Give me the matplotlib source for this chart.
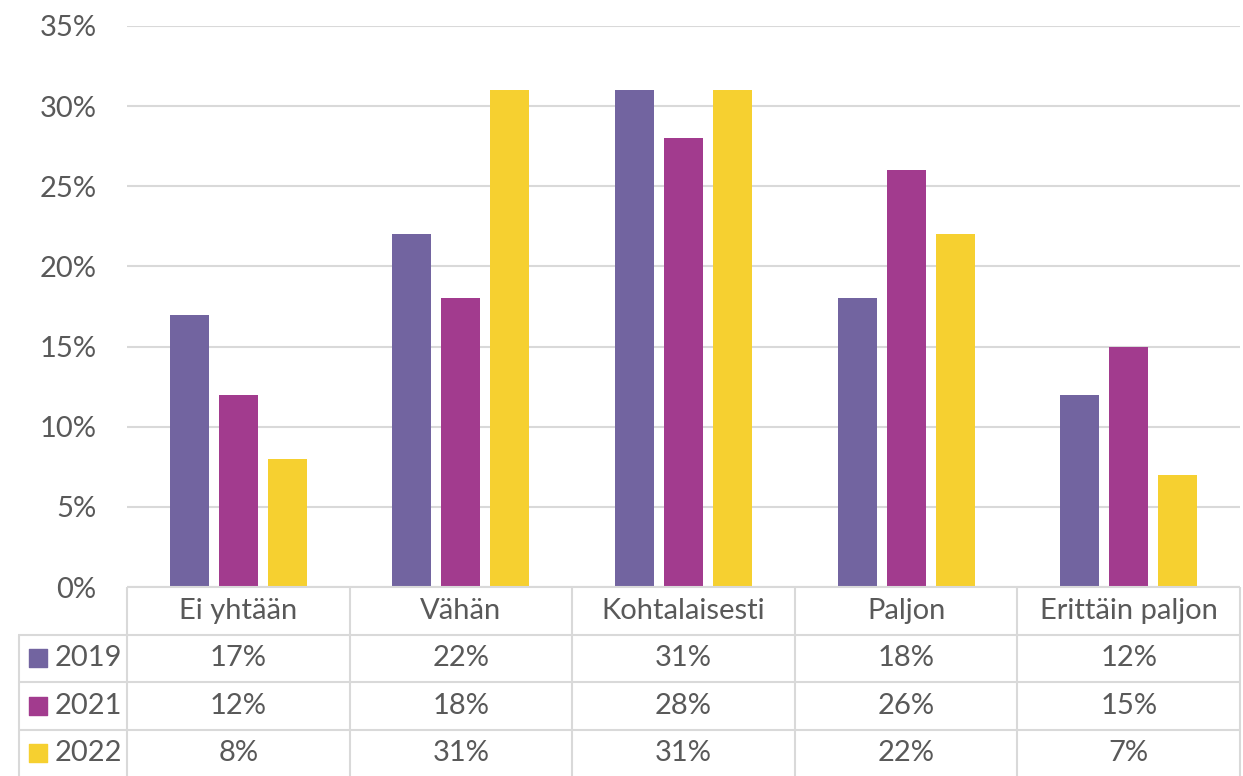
import matplotlib.pyplot as plt
import numpy as np

# data
categories = ["Ei yhtään", "Vähän", "Kohtalaisesti", "Paljon", "Erittäin paljon"]
years = ["2019", "2021", "2022"]
v2019 = [17, 22, 31, 18, 12]
v2021 = [12, 18, 28, 26, 15]
v2022 = [8, 31, 31, 22, 7]
series = [v2019, v2021, v2022]
colors = ["#7264A0", "#A23B8E", "#F6D030"]

plt.rcParams['font.family'] = ['Lato', 'DejaVu Sans']
txt = "#595959"
grid = "#D9D9D9"
fs = 21

W, H = 1243, 776
fig = plt.figure(figsize=(W / 100, H / 100), dpi=100)

left, right, bottom, top = 127, 1240, 587, 26
ax = fig.add_axes([left / W, 1 - bottom / H, (right - left) / W, (bottom - top) / H])

x = np.arange(len(categories))
width = 0.175
step = 0.22
for i, vals in enumerate(series):
    ax.bar(x + (i - 1) * step, np.array(vals) / 100, width, color=colors[i], zorder=3)

ax.set_xlim(-0.5, len(categories) - 0.5)
ax.set_ylim(0, 0.35)
ax.set_yticks(np.arange(0, 0.351, 0.05))
ax.set_yticklabels(["{:.0f}%".format(t * 100) for t in np.arange(0, 0.351, 0.05)])
ax.tick_params(axis='y', length=0, pad=22, labelsize=fs, labelcolor=txt)
ax.set_xticks([])
ax.grid(axis='y', color=grid, linewidth=1.5, zorder=0)
for s in ax.spines.values():
    s.set_visible(False)

# data table below
cat_px = (right - left) / len(categories)
xmin = -0.5 - (left - 18) / cat_px
row_px = 47.5
nrows = (H - bottom) / row_px
tax = fig.add_axes([18 / W, 0, (right - 18) / W, (H - bottom) / H])
tax.set_xlim(xmin, len(categories) - 0.5)
tax.set_ylim(nrows, 0)
tax.axis('off')

lw = 1.5
tax.hlines(0, -0.5, len(categories) - 0.5, color=grid, lw=lw, clip_on=False)
for r in range(1, 4):
    tax.hlines(r, xmin, len(categories) - 0.5, color=grid, lw=lw, clip_on=False)
for c in range(len(categories) + 1):
    tax.vlines(c - 0.5, 0, nrows, color=grid, lw=lw, clip_on=False)
tax.vlines(xmin + 0.005, 1, nrows, color=grid, lw=lw, clip_on=False)

for j, cat in enumerate(categories):
    tax.text(j, 0.5, cat, ha='center', va='center', fontsize=fs, color=txt)
for i, (yr, vals) in enumerate(zip(years, series)):
    yc = i + 1.5
    tax.scatter([-0.5 - (left - 38) / cat_px], [yc], marker='s', s=170, color=colors[i], clip_on=False)
    tax.text(-0.5 - (left - 55) / cat_px, yc, yr, ha='left', va='center', fontsize=fs, color=txt)
    for j, v in enumerate(vals):
        tax.text(j, yc, "{}%".format(v), ha='center', va='center', fontsize=fs, color=txt)

fig.savefig("out.png", dpi=100)
